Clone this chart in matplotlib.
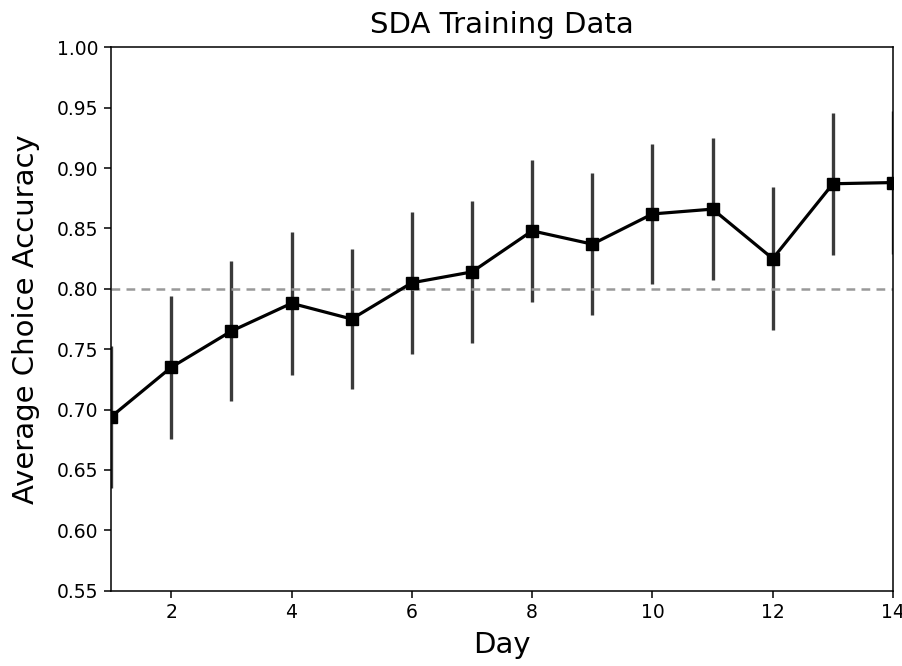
import numpy as np
import matplotlib
matplotlib.use("Agg")
import matplotlib.pyplot as plt

# mean choice accuracy per training day, with error (SEM)
days = np.arange(1, 15)
accuracy = [0.694, 0.735, 0.765, 0.788, 0.775, 0.805, 0.814,
            0.848, 0.837, 0.862, 0.866, 0.825, 0.887, 0.888]
errors = [0.059, 0.059, 0.058, 0.059, 0.058, 0.059, 0.059,
          0.059, 0.059, 0.058, 0.059, 0.059, 0.059, 0.059]
criterion = 0.80

fig, ax = plt.subplots(figsize=(9.03, 6.66), dpi=100)
ax.errorbar(days, accuracy, yerr=errors, color="black", ecolor="#3a3a3a",
            elinewidth=2.4, linewidth=2.3, marker="s", markersize=9)
ax.axhline(criterion, color="#999999", linestyle=(0, (3.5, 2.5)), linewidth=1.8)

ax.set_xlim(1, 14)
ax.set_ylim(0.55, 1.0)
ax.set_yticks(np.arange(0.55, 1.001, 0.05))
ax.tick_params(labelsize=13.5, length=5, width=1.1, pad=4)
for spine in ax.spines.values():
    spine.set_linewidth(1.1)
ax.set_title("SDA Training Data", fontsize=21, pad=10)
ax.set_xlabel("Day", fontsize=21, labelpad=6)
ax.set_ylabel("Average Choice Accuracy", fontsize=21, labelpad=12)

fig.subplots_adjust(left=0.123, right=0.989, top=0.929, bottom=0.113)
fig.savefig("out.png")
